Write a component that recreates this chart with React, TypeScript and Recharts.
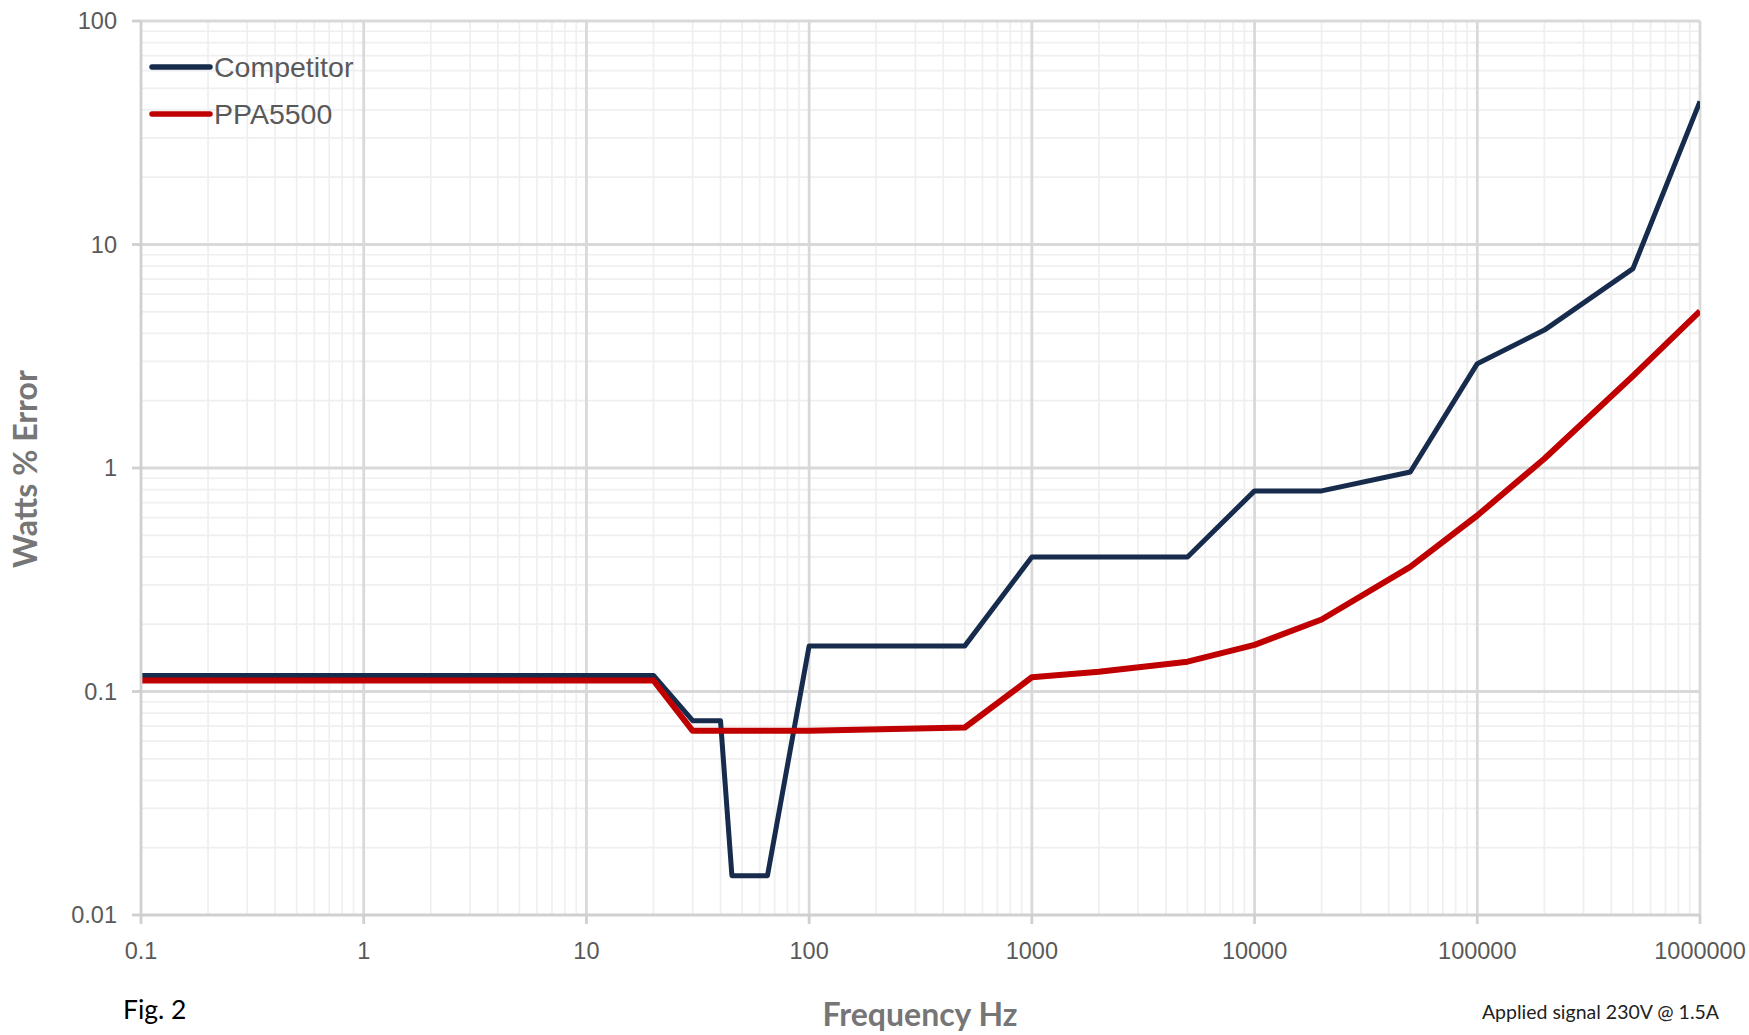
import React from "react";
import { LineChart, Line, XAxis, YAxis, ReferenceLine } from "recharts";

const competitorFreq = [0.1, 20, 30, 40, 45, 65, 100, 500, 1000, 5000, 10000, 20000, 50000, 100000, 200000, 500000, 1000000];
const competitorError = [0.118, 0.118, 0.074, 0.074, 0.015, 0.015, 0.16, 0.16, 0.4, 0.4, 0.79, 0.79, 0.96, 2.93, 4.14, 7.8, 43.7];

const ppaFreq = [0.1, 20, 30, 100, 500, 1000, 2000, 5000, 10000, 20000, 50000, 100000, 200000, 500000, 1000000];
const ppaError = [0.112, 0.112, 0.0667, 0.0667, 0.069, 0.1158, 0.1226, 0.136, 0.1616, 0.21, 0.361, 0.613, 1.1, 2.58, 5.03];

const xMajorTicks = [0.1, 1, 10, 100, 1000, 10000, 100000, 1000000];
const yMajorTicks = [0.01, 0.1, 1, 10, 100];
const minorMultipliers = [2, 3, 4, 5, 6, 7, 8, 9];

const competitorData = competitorFreq.map((f, i) => ({ f, v: competitorError[i] }));
const ppaData = ppaFreq.map((f, i) => ({ f, v: ppaError[i] }));

const xMinor: number[] = [];
xMajorTicks.slice(0, -1).forEach((d) => minorMultipliers.forEach((m) => xMinor.push(+(d * m).toPrecision(6))));
const yMinor: number[] = [];
yMajorTicks.slice(0, -1).forEach((d) => minorMultipliers.forEach((m) => yMinor.push(+(d * m).toPrecision(6))));

const NAVY = "#172b4d";
const RED = "#c00000";
const TICK = "#595959";
const TITLE = "#767676";
const SANS = "'Liberation Sans', Arial, sans-serif";
const CAL = "Lato, 'Open Sans', sans-serif";

const legendItems = [
  { name: "Competitor", color: NAVY },
  { name: "PPA5500", color: RED },
];

export default function App() {
  return (
    <div style={{ position: "fixed", left: 0, top: 0, width: 1749, height: 1035, overflow: "hidden", background: "#fff" }}>
      <LineChart width={1749} height={1035} margin={{ top: 21, right: 49, left: 0, bottom: 90 }}>
        <XAxis
          dataKey="f"
          type="number"
          scale="log"
          domain={[0.1, 1000000]}
          ticks={xMajorTicks}
          allowDataOverflow
          tickFormatter={(v: number) => String(v)}
          tick={{ fill: TICK, fontSize: 23.5, fontFamily: SANS }}
          axisLine={{ stroke: "#d0d0d0", strokeWidth: 2.8 }}
          tickLine={{ stroke: "#d0d0d0", strokeWidth: 2.8 }}
          tickSize={9}
          tickMargin={18}
          height={30}
          interval={0}
        />
        <YAxis
          dataKey="v"
          type="number"
          scale="log"
          domain={[0.01, 100]}
          ticks={yMajorTicks}
          allowDataOverflow
          tickFormatter={(v: number) => String(v)}
          tick={{ fill: TICK, fontSize: 23.5, fontFamily: SANS }}
          axisLine={{ stroke: "#d0d0d0", strokeWidth: 2.8 }}
          tickLine={{ stroke: "#d0d0d0", strokeWidth: 2.8 }}
          tickSize={9}
          tickMargin={15}
          width={141}
          interval={0}
        />
        {xMinor.map((x) => (
          <ReferenceLine key={"xm" + x} x={x} stroke="#efefef" strokeWidth={1.7} ifOverflow="hidden" />
        ))}
        {yMinor.map((y) => (
          <ReferenceLine key={"ym" + y} y={y} stroke="#efefef" strokeWidth={1.7} ifOverflow="hidden" />
        ))}
        {xMajorTicks.slice(1).map((x) => (
          <ReferenceLine key={"xM" + x} x={x} stroke="#d9d9d9" strokeWidth={2.8} />
        ))}
        {yMajorTicks.slice(1).map((y) => (
          <ReferenceLine key={"yM" + y} y={y} stroke="#d9d9d9" strokeWidth={2.8} />
        ))}
        <Line
          data={competitorData}
          dataKey="v"
          name="Competitor"
          type="linear"
          stroke={NAVY}
          strokeWidth={5}
          dot={false}
          strokeLinejoin="round"
          isAnimationActive={false}
        />
        <Line
          data={ppaData}
          dataKey="v"
          name="PPA5500"
          type="linear"
          stroke={RED}
          strokeWidth={6}
          dot={false}
          strokeLinejoin="round"
          isAnimationActive={false}
        />
      </LineChart>
      <svg
        width={1749}
        height={1035}
        style={{ position: "absolute", left: 0, top: 0, pointerEvents: "none", overflow: "visible" }}
      >
        {legendItems.map((it, i) => (
          <g key={it.name}>
            <line
              x1={152}
              y1={67 + i * 47}
              x2={210}
              y2={67 + i * 47}
              stroke={it.color}
              strokeWidth={5.5}
              strokeLinecap="round"
            />
            <text x={214} y={77 + i * 47} fontFamily={SANS} fontSize={28.5} fill={TICK}>
              {it.name}
            </text>
          </g>
        ))}
        <text
          transform="translate(37 469) rotate(-90)"
          textAnchor="middle"
          fontFamily={CAL}
          fontWeight={700}
          fontSize={32}
          fill={TITLE}
        >
          Watts % Error
        </text>
        <text x={920} y={1026} textAnchor="middle" fontFamily={CAL} fontWeight={700} fontSize={32} fill={TITLE}>
          Frequency Hz
        </text>
        <text x={123} y={1019} fontFamily={CAL} fontSize={26.5} fill="#000">
          Fig. 2
        </text>
        <text x={1719} y={1019} textAnchor="end" fontFamily={CAL} fontSize={19.5} fill="#222">
          Applied signal 230V @ 1.5A
        </text>
      </svg>
    </div>
  );
}
